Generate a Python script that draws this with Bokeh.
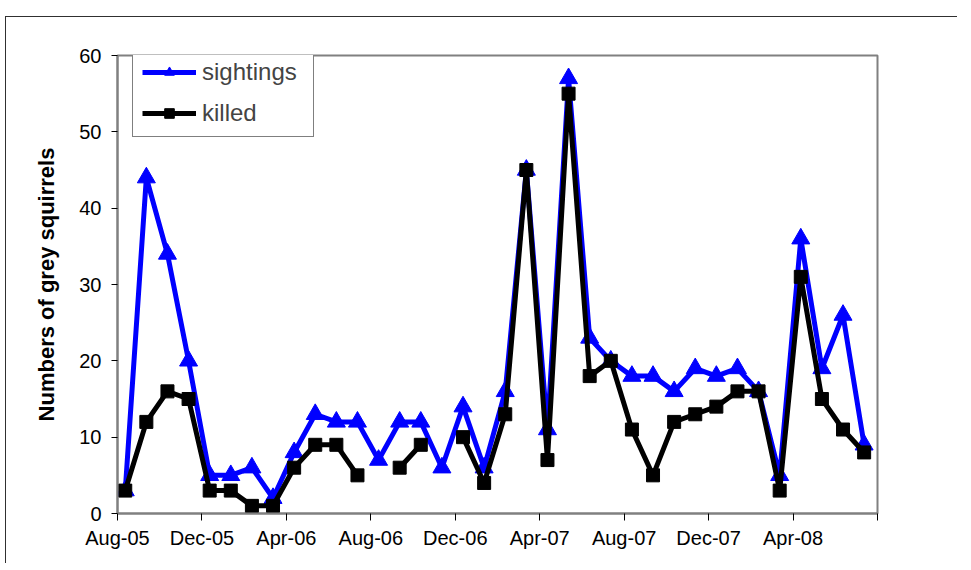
from bokeh.plotting import figure
from bokeh.models import Legend, LegendItem, FixedTicker, ColumnDataSource
from bokeh.embed import file_html
from bokeh.resources import INLINE

months = ["Aug-05", "Sep-05", "Oct-05", "Nov-05", "Dec-05", "Jan-06", "Feb-06", "Mar-06",
          "Apr-06", "May-06", "Jun-06", "Jul-06", "Aug-06", "Sep-06", "Oct-06", "Nov-06",
          "Dec-06", "Jan-07", "Feb-07", "Mar-07", "Apr-07", "May-07", "Jun-07", "Jul-07",
          "Aug-07", "Sep-07", "Oct-07", "Nov-07", "Dec-07", "Jan-08", "Feb-08", "Mar-08",
          "Apr-08", "May-08", "Jun-08", "Jul-08"]
sightings = [3, 44, 34, 20, 5, 5, 6, 2, 8, 13, 12, 12, 7, 12, 12, 6, 14, 6, 16, 45, 11, 57,
             23, 20, 18, 18, 16, 19, 18, 19, 16, 5, 36, 19, 26, 9]
killed = [3, 12, 16, 15, 3, 3, 1, 1, 6, 9, 9, 5, None, 6, 9, None, 10, 4, 13, 45, 7, 55,
          18, 20, 11, 5, 12, 13, 14, 16, 16, 3, 31, 15, 11, 8]
tick_labels = ["Aug-05", "Dec-05", "Apr-06", "Aug-06", "Dec-06", "Apr-07", "Aug-07",
               "Dec-07", "Apr-08", ""]
y_ticks = [0, 10, 20, 30, 40, 50, 60]

day_frac = 11 / 30.0  # observations fall ~11 days into each month
xs = [i + day_frac for i in range(len(months))]
killed_vals = [float("nan") if v is None else v for v in killed]
src = ColumnDataSource(dict(x=xs, s=sightings, k=killed_vals))

FONT = "Liberation Sans"

p = figure(frame_width=760, frame_height=458,
           min_border_left=111, min_border_top=38, min_border_right=80, min_border_bottom=50,
           x_range=(0, 36), y_range=(0, 60),
           output_backend="svg", toolbar_location=None,
           background_fill_color="white", border_fill_color="white")
# outer chart-area border (top and left edges)
p.styles = {"margin-left": "5px", "margin-top": "16px",
            "border-top": "1px solid #303030", "border-left": "1px solid #303030"}

p.grid.visible = False
p.outline_line_color = "#808080"
p.outline_line_width = 2

tick_pos = list(range(0, 37, 4))
p.xaxis.ticker = FixedTicker(ticks=tick_pos)
p.xaxis.major_label_overrides = {t: lab for t, lab in zip(tick_pos, tick_labels)}
p.yaxis.ticker = FixedTicker(ticks=y_ticks)

for ax in (p.xaxis, p.yaxis):
    ax.axis_line_color = "#808080"
    ax.axis_line_width = 2
    ax.major_tick_line_color = "#000000"
    ax.major_tick_line_width = 1
    ax.major_tick_in = 0
    ax.minor_tick_line_color = None
    ax.major_label_text_font = FONT
    ax.major_label_text_color = "black"

p.xaxis.major_tick_out = 7
p.xaxis.major_label_standoff = 6
p.xaxis.major_label_text_font_size = "20px"
p.yaxis.major_tick_out = 6
p.yaxis.major_label_standoff = 10
p.yaxis.major_label_text_font_size = "20px"

p.yaxis.axis_label = "Numbers of grey squirrels"
p.yaxis.axis_label_text_font = FONT
p.yaxis.axis_label_text_font_style = "bold"
p.yaxis.axis_label_text_font_size = "22px"
p.yaxis.axis_label_text_color = "black"
p.yaxis.axis_label_standoff = 17

ls = p.line("x", "s", source=src, line_color="#0000FF", line_width=5)
ms = p.scatter("x", "s", source=src, marker="triangle", size=18,
               fill_color="#0000FF", line_color="#0000FF")
lk = p.line("x", "k", source=src, line_color="#000000", line_width=5)
mk = p.scatter("x", "k", source=src, marker="square", size=13,
               fill_color="#000000", line_color="#000000")

legend = Legend(items=[LegendItem(label="sightings", renderers=[ls, ms]),
                       LegendItem(label="killed", renderers=[lk, mk])],
                location=(15, 376), orientation="vertical",
                glyph_width=54, glyph_height=24, spacing=13, padding=9,
                label_standoff=6, label_width=102, label_height=24,
                label_text_font=FONT, label_text_font_size="24px",
                border_line_color="black", border_line_width=1,
                background_fill_color="white", background_fill_alpha=1.0,
                margin=0)
p.add_layout(legend)

open("out.html", "w").write(file_html(p, INLINE))
